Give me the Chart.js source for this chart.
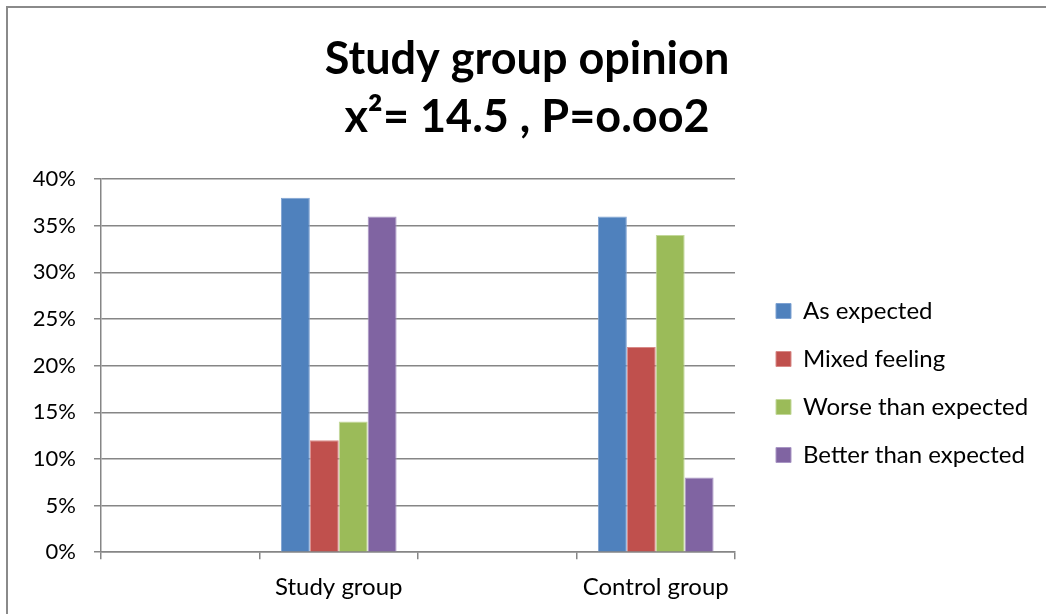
<!DOCTYPE html>
<html>
<head>
<meta charset="utf-8">
<script src="https://cdn.jsdelivr.net/npm/chart.js"></script>
<style>
  body { margin: 0; background: #fff; }
  #wrap { position: absolute; left: 0; top: 0; width: 1046px; height: 614px; overflow: hidden; }
  #frame { position: absolute; left: 6px; top: 6px; width: 1060px; height: 620px;
           border-top: 2px solid #8a8a8a; border-left: 2px solid #8a8a8a; pointer-events: none; }
</style>
</head>
<body>
<div id="wrap">
  <canvas id="bar-chart" width="1046" height="614"></canvas>
  <div id="frame"></div>
</div>
<script>
// categories (empty slots keep the two groups in the 2nd and 4th positions)
const groups = ['', 'Study group', '', 'Control group'];
const titleLines = ['Study group opinion', 'x\u00b2= 14.5 , P=o.oo2'];
const yTicks = [0, 5, 10, 15, 20, 25, 30, 35, 40];

// percentages per group
const asExpected     = [null, 38, null, 36];
const mixedFeeling   = [null, 12, null, 22];
const worseThanExp   = [null, 14, null, 34];
const betterThanExp  = [null, 36, null, 8];

const seriesNames = ['As expected', 'Mixed feeling', 'Worse than expected', 'Better than expected'];
const seriesColors = ['#4f81bd', '#c0504d', '#9bbb59', '#8064a2'];
const seriesEdges = ['#7ea2d2', '#d88a88', '#c3d89a', '#a996c4'];

const font = 'Lato, "Open Sans", sans-serif';

// legend sits a bit further from the plot than Chart.js puts it
const legendNudge = {
    id: 'legendNudge',
    beforeUpdate(chart) {
        const lg = chart.legend;
        if (lg && !lg._nudged) {
            const fit = lg.fit.bind(lg);
            lg.fit = function () { fit(); this.width = 311; };
            lg._nudged = true;
        }
    },
    afterLayout(chart) {
        const lg = chart.legend;
        lg.left += 17; lg.right += 17;
        lg.top += 75; lg.bottom += 75;
    }
};

function renderBarChart() {
    const ctx = document.getElementById('bar-chart').getContext('2d');
    const allSeries = [asExpected, mixedFeeling, worseThanExp, betterThanExp];

    window.barChart = new Chart(ctx, {
        type: 'bar',
        data: {
            labels: groups,
            datasets: allSeries.map((vals, i) => ({
                label: seriesNames[i],
                data: vals,
                backgroundColor: seriesColors[i],
                borderColor: seriesEdges[i],
                borderWidth: 1,
                barPercentage: 1,
                categoryPercentage: 0.73
            }))
        },
        plugins: [legendNudge],
        options: {
            responsive: false,
            animation: false,
            layout: { padding: { left: 8, right: 0, top: 0, bottom: -2 } },
            plugins: {
                title: {
                    display: true,
                    text: titleLines,
                    color: '#000000',
                    font: { family: font, size: 45, weight: 'bold', lineHeight: 1.29 },
                    padding: { top: 30, bottom: 33 }
                },
                legend: {
                    position: 'right',
                    labels: {
                        color: '#000000',
                        boxWidth: 15,
                        boxHeight: 15,
                        padding: 24,
                        font: { family: font, size: 24 },
                        useBorderRadius: false
                    }
                },
                tooltip: { enabled: false }
            },
            scales: {
                x: {
                    offset: true,
                    grid: {
                        offset: true,
                        drawOnChartArea: false,
                        color: '#868686',
                        lineWidth: 1.5,
                        tickLength: 7
                    },
                    border: { color: '#868686', width: 1.5 },
                    ticks: {
                        color: '#000000',
                        padding: 14,
                        autoSkip: false,
                        maxRotation: 0,
                        font: { family: font, size: 24 }
                    }
                },
                y: {
                    min: 0,
                    max: 40,
                    afterBuildTicks: (axis) => { axis.ticks = yTicks.map(v => ({ value: v })); },
                    afterFit: (axis) => { axis.width = 93; },
                    grid: { color: '#868686', lineWidth: 1.5, tickLength: 7 },
                    border: { color: '#868686', width: 1.5 },
                    ticks: {
                        color: '#000000',
                        padding: 18,
                        font: { family: font, size: 22 },
                        callback: (v) => v + '%'
                    }
                }
            }
        }
    });
}

renderBarChart();
</script>
</body>
</html>
